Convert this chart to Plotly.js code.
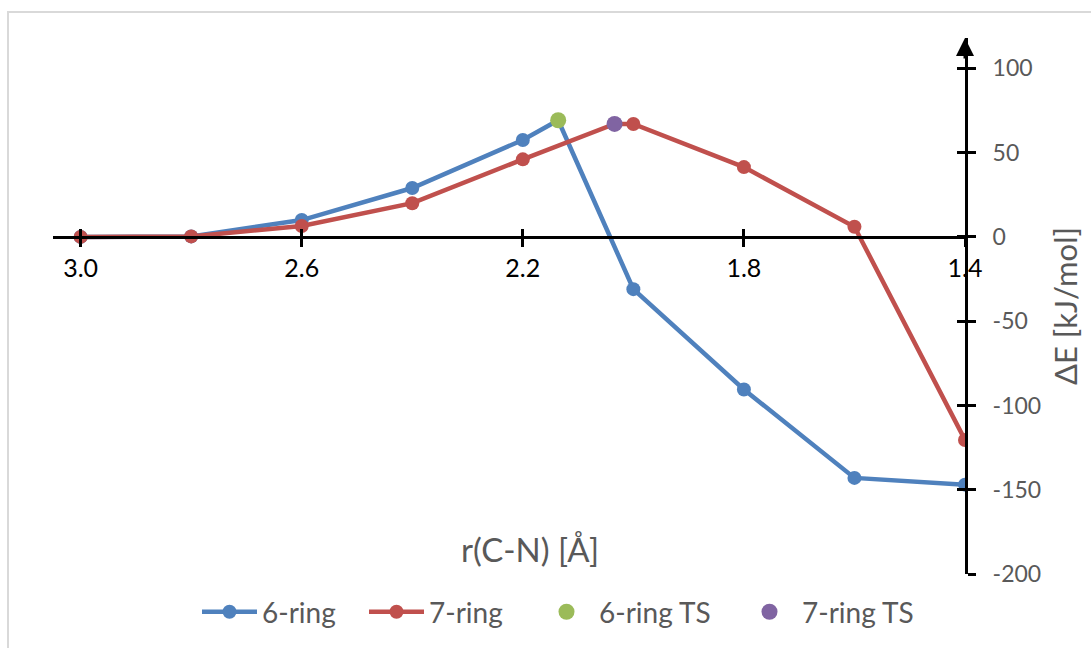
<!DOCTYPE html>
<html>
<head>
<meta charset="utf-8">
<script src="https://cdn.plot.ly/plotly-3.0.1.min.js"></script>
<style>
  html, body { margin: 0; padding: 0; background: #ffffff; overflow: hidden; }
  #chart { width: 1091px; height: 648px; }
  #frame { position: absolute; left: 7px; top: 11px; width: 1200px; height: 800px;
           border: 2px solid #d9d9d9; pointer-events: none; }
</style>
</head>
<body>
<div id="chart"></div>
<div id="frame"></div>
<script>
// ---- data ----
const rSix = [3.0, 2.8, 2.6, 2.4, 2.2, 2.136, 2.0, 1.8, 1.6, 1.4];
const eSix = [0, 0.3, 10, 29, 57.5, 69.2, -31, -90.5, -143, -147];
const rSeven = [3.0, 2.8, 2.6, 2.4, 2.2, 2.034, 2.0, 1.8, 1.6, 1.4];
const eSeven = [0, 0.3, 6.5, 20, 46, 67, 67, 41.4, 6, -120.5];
const rSixTS = [2.136];
const eSixTS = [69.2];
const rSevenTS = [2.034];
const eSevenTS = [67];
const yTicks = [-200, -150, -100, -50, 0, 50, 100];
const yTickText = ['-200', '-150', '-100', '-50', '0', '50', '100'];
const xTitle = 'r(C-N) [Å]';
const yTitle = 'ΔE [kJ/mol]';
const names = ['6-ring', '7-ring', '6-ring TS', '7-ring TS'];

// ---- styles ----
const FONT = 'Lato, "Open Sans", sans-serif';
const GRAY = '#595959';
const yRange = [-200, 118];
const xRange = [3.05, 1.4];
const zeroFrac = (0 - yRange[0]) / (yRange[1] - yRange[0]);
const PLOT_L = 53, PLOT_W = 912;
const legendLeftPx = [197, 364, 534, 737];

const traces = [
  { x: rSix, y: eSix, name: names[0], mode: 'lines+markers', legend: 'legend',
    line: { color: '#4F81BD', width: 4.5 }, marker: { color: '#4F81BD', size: 14 } },
  { x: rSeven, y: eSeven, name: names[1], mode: 'lines+markers', legend: 'legend2',
    line: { color: '#C0504D', width: 4.5 }, marker: { color: '#C0504D', size: 14 } },
  { x: rSixTS, y: eSixTS, name: names[2], mode: 'markers', xaxis: 'x2', yaxis: 'y2', legend: 'legend3',
    marker: { color: '#9BBB59', size: 16 } },
  { x: rSevenTS, y: eSevenTS, name: names[3], mode: 'markers', xaxis: 'x2', yaxis: 'y2', legend: 'legend4',
    marker: { color: '#8064A2', size: 16 } }
];

function legendAt(px) {
  return {
    orientation: 'h', x: (px - PLOT_L) / PLOT_W, xanchor: 'left', y: -0.069, yanchor: 'middle',
    font: { family: FONT, size: 28, color: GRAY }, itemwidth: 55,
    bgcolor: 'rgba(0,0,0,0)'
  };
}

const xCommon = {
  range: xRange, anchor: 'free', position: zeroFrac,
  tickmode: 'linear', tick0: 1.4, dtick: 0.4, tickformat: '.1f',
  showgrid: false, zeroline: false, fixedrange: true,
  tickcolor: '#000', tickwidth: 3, ticklen: 8
};
const yCommon = {
  range: yRange, tickmode: 'array', tickvals: yTicks, ticktext: yTickText,
  showgrid: false, zeroline: false, fixedrange: true,
  tickcolor: '#000', tickwidth: 3, ticklen: 8
};

const layout = {
  width: 1091, height: 648,
  margin: { l: PLOT_L, r: 1091 - PLOT_L - PLOT_W, t: 38, b: 73 },
  paper_bgcolor: 'rgba(0,0,0,0)', plot_bgcolor: 'rgba(0,0,0,0)',
  font: { family: FONT, color: GRAY },
  showlegend: true,
  legend: legendAt(legendLeftPx[0]),
  legend2: legendAt(legendLeftPx[1]),
  legend3: legendAt(legendLeftPx[2]),
  legend4: legendAt(legendLeftPx[3]),
  xaxis: Object.assign({}, xCommon, {
    showline: true, linecolor: '#000', linewidth: 3, ticks: 'outside',
    tickfont: { family: FONT, size: 25, color: '#000' }
  }),
  xaxis2: Object.assign({}, xCommon, {
    overlaying: 'x', showline: false, ticks: 'inside', showticklabels: false
  }),
  yaxis: Object.assign({}, yCommon, {
    side: 'right', anchor: 'x', showline: true, linecolor: '#000', linewidth: 3,
    ticks: 'outside', ticklabelstandoff: 12,
    tickfont: { family: FONT, size: 23, color: GRAY },
    title: { text: yTitle, font: { family: FONT, size: 31, color: GRAY }, standoff: 16 }
  }),
  yaxis2: Object.assign({}, yCommon, {
    overlaying: 'y', side: 'right', anchor: 'x2', showline: false,
    ticks: 'inside', showticklabels: false
  }),
  annotations: [
    { xref: 'paper', yref: 'paper', x: (530 - PLOT_L) / PLOT_W, y: 0.047, xanchor: 'center', yanchor: 'middle',
      text: xTitle, showarrow: false, font: { family: FONT, size: 33, color: GRAY } },
    { xref: 'x', yref: 'y', x: xRange[1], y: yRange[1], text: '', showarrow: true,
      ax: 0, ay: 22, arrowhead: 2, arrowsize: 1.2, arrowwidth: 3, arrowcolor: '#000' }
  ]
};

Plotly.newPlot('chart', traces, layout, { displayModeBar: false, staticPlot: true });
</script>
</body>
</html>
